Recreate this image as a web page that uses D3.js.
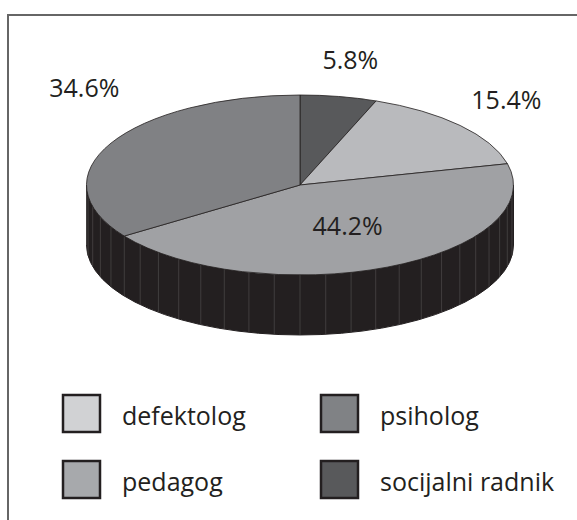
<!DOCTYPE html>
<html>
<head>
<meta charset="utf-8">
<script src="https://cdn.jsdelivr.net/npm/d3@7"></script>
<style>
  body { margin: 0; background: #fff; }
  svg { display: block; font-family: 'Open Sans', sans-serif; }
  .lbl { font-size: 25px; fill: #231f20; }
</style>
</head>
<body>
<svg id="chart" width="577" height="520"></svg>
<script>
// pie order, clockwise from 12 o'clock
const categories = ['socijalni radnik', 'defektolog', 'pedagog', 'psiholog']
const values = [5.8, 15.4, 44.2, 34.6]
const labels = ['5.8%', '15.4%', '44.2%', '34.6%']
const legendOrder = ['defektolog', 'psiholog', 'pedagog', 'socijalni radnik']

const topColor = {
  'socijalni radnik': '#58595b',
  'defektolog': '#b9babd',
  'pedagog': '#a0a1a4',
  'psiholog': '#808184'
}
const legendColor = {
  'socijalni radnik': '#58595b',
  'defektolog': '#d1d2d4',
  'pedagog': '#a7a9ac',
  'psiholog': '#808285'
}
const ink = '#231f20'

const svg = d3.select('#chart')
const cx = 300, cy = 185, rx = 213.5, ry = 90, depth = 60

// frame (top and left only)
svg.append('path')
  .attr('d', 'M8,520V15H577')
  .attr('fill', 'none')
  .attr('stroke', '#666')
  .attr('stroke-width', 2)

const pie = d3.pie().sort(null).value(d => d)
const arcs = pie(values)

const ex = a => cx + rx * Math.sin(a)
const ey = a => cy - ry * Math.cos(a)

// side of the disc: front half, from 90deg round to 270deg
const side = svg.append('g')
const a0 = Math.PI / 2, a1 = Math.PI * 1.5
side.append('path')
  .attr('d', `M${ex(a0)},${ey(a0)}A${rx},${ry} 0 0 1 ${ex(a1)},${ey(a1)}` +
    `V${ey(a1) + depth}A${rx},${ry} 0 0 0 ${ex(a0)},${ey(a0) + depth}Z`)
  .attr('fill', ink)
  .attr('stroke', ink)
  .attr('stroke-width', 1)

// facet lines on the side
d3.range(a0 + Math.PI / 26, a1, Math.PI / 26).forEach(a => {
  side.append('line')
    .attr('x1', ex(a)).attr('x2', ex(a))
    .attr('y1', ey(a)).attr('y2', ey(a) + depth)
    .attr('stroke', '#4d4a4b')
    .attr('stroke-width', 0.7)
})

// top face, drawn with d3.arc on a circle squashed into an ellipse
const arc = d3.arc().innerRadius(0).outerRadius(rx)
const face = svg.append('g')
  .attr('transform', `translate(${cx},${cy}) scale(1,${ry / rx})`)

face.selectAll('path')
  .data(arcs)
  .join('path')
  .attr('d', arc)
  .attr('fill', (d, i) => topColor[categories[i]])
  .attr('stroke', ink)
  .attr('stroke-width', 0.8)
  .attr('vector-effect', 'non-scaling-stroke')
  .attr('stroke-linejoin', 'round')

// percentage labels, placed along the slice mid angle
const labelK = [1.3, 1.32, 0.5, 1.3]
const nudge = [[0, -8], [-5, -4], [4, 2], [30, -40]]
svg.selectAll('text.pct')
  .data(arcs)
  .join('text')
  .attr('class', 'lbl pct')
  .attr('text-anchor', 'middle')
  .attr('dominant-baseline', 'middle')
  .attr('x', (d, i) => {
    const m = (d.startAngle + d.endAngle) / 2
    return cx + labelK[i] * rx * Math.sin(m) + nudge[i][0]
  })
  .attr('y', (d, i) => {
    const m = (d.startAngle + d.endAngle) / 2
    return cy - labelK[i] * ry * Math.cos(m) + nudge[i][1]
  })
  .text((d, i) => labels[i])

// legend, two columns
const col = d3.scaleOrdinal().domain([0, 1]).range([62, 320])
const row = d3.scaleOrdinal().domain([0, 1]).range([394, 460])
const box = 37

const leg = svg.selectAll('g.leg')
  .data(legendOrder)
  .join('g')
  .attr('class', 'leg')
  .attr('transform', (d, i) => `translate(${col(i % 2)},${row(Math.floor(i / 2))})`)

leg.append('rect')
  .attr('x', 1).attr('y', 1)
  .attr('width', box).attr('height', box)
  .attr('fill', d => legendColor[d])
  .attr('stroke', ink)
  .attr('stroke-width', 2.5)

leg.append('text')
  .attr('class', 'lbl')
  .attr('x', 60)
  .attr('y', 31)
  .text(d => d)
</script>
</body>
</html>
